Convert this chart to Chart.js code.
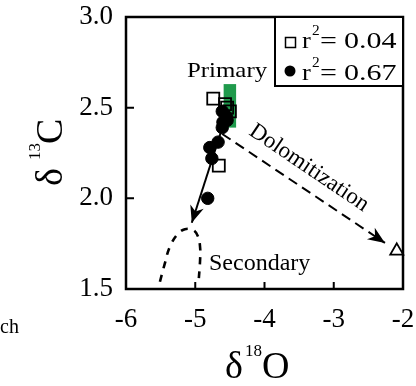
<!DOCTYPE html>
<html lang="en">
<head>
<meta charset="UTF-8">
<title>d13C vs d18O</title>
<script src="https://cdn.jsdelivr.net/npm/chart.js"></script>
<style>
    body { margin: 0; background: #fff; }
    #wrap { width: 416px; height: 386px; }
</style>
</head>
<body>
<div id="wrap"><canvas id="myChart" width="416" height="386"></canvas></div>
<script>
    // open squares (r2 = 0.04)
    const squareX = [-4.74, -4.57, -4.50, -4.54, -4.66];
    const squareY = [2.55, 2.52, 2.48, 2.50, 2.18];
    // filled circles (r2 = 0.67)
    const circleX = [-4.61, -4.54, -4.55, -4.60, -4.61, -4.67, -4.79, -4.76, -4.82];
    const circleY = [2.48, 2.43, 2.45, 2.42, 2.39, 2.31, 2.28, 2.22, 2.00];
    // open triangle
    const triX = [-2.09];
    const triY = [1.71];
    // arrows and the secondary field
    const trendX = [-4.60, -5.05];
    const trendY = [2.40, 1.865];
    const doloX = [-4.61, -2.26];
    const doloY = [2.355, 1.754];
    const secX = [-5.51, -5.44, -5.37, -5.26, -5.15, -5.03, -4.96, -4.93, -4.93, -4.95];
    const secY = [1.54, 1.64, 1.73, 1.80, 1.83, 1.825, 1.79, 1.73, 1.66, 1.55];
    // primary field (green box)
    const primaryX = [-4.59, -4.41];
    const primaryY = [2.39, 2.63];

    const xTicks = [-6, -5, -4, -3, -2];
    const yTicks = [1.5, 2.0, 2.5, 3.0];
    const legendLabels = ['0.04', '0.67'];

    const serif = "'Liberation Serif', 'Times New Roman', serif";

    function pts(xs, ys) {
        return xs.map((x, i) => ({ x: x, y: ys[i] }));
    }

    // text with a little horizontal stretch, like the original figure
    function stretchText(ctx, str, x, y, size, sx) {
        ctx.save();
        ctx.translate(x, y);
        ctx.scale(sx || 1, 1);
        ctx.font = size + 'px ' + serif;
        ctx.fillText(str, 0, 0);
        ctx.restore();
    }

    function arrowHead(ctx, x1, y1, x2, y2) {
        const a = Math.atan2(y2 - y1, x2 - x1);
        ctx.save();
        ctx.translate(x2, y2);
        ctx.rotate(a);
        ctx.beginPath();
        ctx.moveTo(0, 0);
        ctx.lineTo(-17, -7);
        ctx.lineTo(-12, 0);
        ctx.lineTo(-17, 7);
        ctx.closePath();
        ctx.fillStyle = '#000';
        ctx.fill();
        ctx.restore();
    }

    const decorations = {
        id: 'decorations',
        beforeDatasetsDraw(chart) {
            const ctx = chart.ctx, sx = chart.scales.x, sy = chart.scales.y;
            const x0 = sx.getPixelForValue(primaryX[0]), x1 = sx.getPixelForValue(primaryX[1]);
            const y0 = sy.getPixelForValue(primaryY[0]), y1 = sy.getPixelForValue(primaryY[1]);
            ctx.save();
            ctx.fillStyle = '#1f9a4c';
            ctx.fillRect(x0, y1, x1 - x0, y0 - y1);
            ctx.restore();
        },
        afterDatasetsDraw(chart) {
            const ctx = chart.ctx, sx = chart.scales.x, sy = chart.scales.y;
            const a = chart.chartArea;

            // arrow heads
            arrowHead(ctx, sx.getPixelForValue(trendX[0]), sy.getPixelForValue(trendY[0]),
                sx.getPixelForValue(trendX[1]), sy.getPixelForValue(trendY[1]));
            arrowHead(ctx, sx.getPixelForValue(doloX[0]), sy.getPixelForValue(doloY[0]),
                sx.getPixelForValue(doloX[1]), sy.getPixelForValue(doloY[1]));

            ctx.save();
            ctx.fillStyle = '#000';
            ctx.strokeStyle = '#000';

            // frame
            ctx.lineWidth = 2.5;
            ctx.strokeRect(a.left, a.top, a.right - a.left, a.bottom - a.top);

            // inward ticks
            ctx.lineWidth = 2;
            ctx.beginPath();
            xTicks.forEach(v => {
                const p = sx.getPixelForValue(v);
                ctx.moveTo(p, a.bottom);
                ctx.lineTo(p, a.bottom - 7);
            });
            yTicks.forEach(v => {
                const p = sy.getPixelForValue(v);
                ctx.moveTo(a.left, p);
                ctx.lineTo(a.left + 8, p);
            });
            ctx.stroke();

            // legend box
            const lx = 275;
            ctx.fillStyle = '#fff';
            ctx.fillRect(lx, a.top, a.right - lx, 69);
            ctx.lineWidth = 2;
            ctx.strokeRect(lx, a.top, a.right - lx, 69);
            ctx.fillStyle = '#000';
            ctx.lineWidth = 1.5;
            ctx.strokeRect(285.5, 37.5, 10, 10);
            ctx.beginPath();
            ctx.arc(290, 71, 5.5, 0, Math.PI * 2);
            ctx.fill();
            ctx.textBaseline = 'alphabetic';
            ctx.textAlign = 'left';
            [48, 80].forEach((base, i) => {
                stretchText(ctx, 'r', 302, base, 24, 1.1);
                stretchText(ctx, '2', 312, base - 13, 14, 1.1);
                stretchText(ctx, '=', 320, base, 24, 1.25);
                stretchText(ctx, legendLabels[i], 344, base, 24, 1.25);
            });

            // annotations
            stretchText(ctx, 'Primary', 187, 77, 22, 1.13);
            stretchText(ctx, 'Secondary', 209, 270, 24, 1.0);
            ctx.save();
            ctx.translate(309, 168);
            ctx.rotate(34 * Math.PI / 180);
            ctx.textAlign = 'center';
            ctx.textBaseline = 'middle';
            ctx.font = '23px ' + serif;
            ctx.fillText('Dolomitization', 0, 0);
            ctx.restore();

            // axis titles
            stretchText(ctx, 'δ', 225, 378, 38, 1);
            stretchText(ctx, '18', 245, 356, 17, 1);
            stretchText(ctx, 'O', 262, 378, 38, 1);

            ctx.save();
            ctx.translate(62, 186);
            ctx.rotate(-Math.PI / 2);
            stretchText(ctx, 'δ', 0, 0, 38, 1);
            stretchText(ctx, '13', 26, -22, 17, 1);
            stretchText(ctx, 'C', 42, 0, 38, 1);
            ctx.restore();

            // cropped neighbour text at the lower left
            stretchText(ctx, 'ch', 0, 333, 20, 1);
            ctx.restore();
        }
    };

    const tickFont = { family: serif, size: 27 };

    const myChart = new Chart(document.getElementById('myChart'), {
        type: 'scatter',
        data: {
            datasets: [
                {
                    label: 'r² = 0.67', data: pts(circleX, circleY),
                    pointStyle: 'circle', pointRadius: 6.2,
                    backgroundColor: '#000', borderColor: '#000', borderWidth: 1
                },
                {
                    label: 'r² = 0.04', data: pts(squareX, squareY),
                    pointStyle: 'rect', pointRadius: 8.5,
                    backgroundColor: 'rgba(0,0,0,0)', borderColor: '#000', borderWidth: 1.8
                },
                {
                    label: 'dolomite', data: pts(triX, triY), clip: false,
                    pointStyle: 'triangle', pointRadius: 7.5,
                    backgroundColor: '#fff', borderColor: '#000', borderWidth: 1.8
                },
                {
                    label: 'trend', data: pts(trendX, trendY), showLine: true,
                    pointRadius: 0, borderColor: '#000', borderWidth: 2
                },
                {
                    label: 'dolomitization', data: pts(doloX, doloY), showLine: true,
                    pointRadius: 0, borderColor: '#000', borderWidth: 2, borderDash: [10, 6]
                },
                {
                    label: 'secondary', data: pts(secX, secY), showLine: true, tension: 0.4,
                    pointRadius: 0, borderColor: '#000', borderWidth: 2.6, borderDash: [7, 7]
                }
            ]
        },
        options: {
            responsive: false,
            animation: false,
            devicePixelRatio: 1,
            layout: { padding: { left: 0, right: 13, top: 17, bottom: 0 } },
            plugins: { legend: { display: false }, tooltip: { enabled: false } },
            scales: {
                x: {
                    min: -6, max: -2,
                    afterFit: s => {
                        s.height = 97;
                        s.paddingLeft = 0; s.paddingRight = 0;
                    },
                    afterBuildTicks: s => { s.ticks = xTicks.map(v => ({ value: v })); },
                    grid: { display: false, drawTicks: false },
                    border: { display: false },
                    ticks: { font: tickFont, color: '#000', padding: 15, maxRotation: 0,
                        callback: v => String(v) }
                },
                y: {
                    min: 1.5, max: 3.0,
                    afterFit: s => {
                        s.width = 126;
                        s.paddingTop = 0; s.paddingBottom = 0;
                    },
                    afterBuildTicks: s => { s.ticks = yTicks.map(v => ({ value: v })); },
                    grid: { display: false, drawTicks: false },
                    border: { display: false },
                    ticks: { font: tickFont, color: '#000', padding: 13,
                        callback: v => Number(v).toFixed(1) }
                }
            }
        },
        plugins: [decorations]
    });
</script>
</body>
</html>
